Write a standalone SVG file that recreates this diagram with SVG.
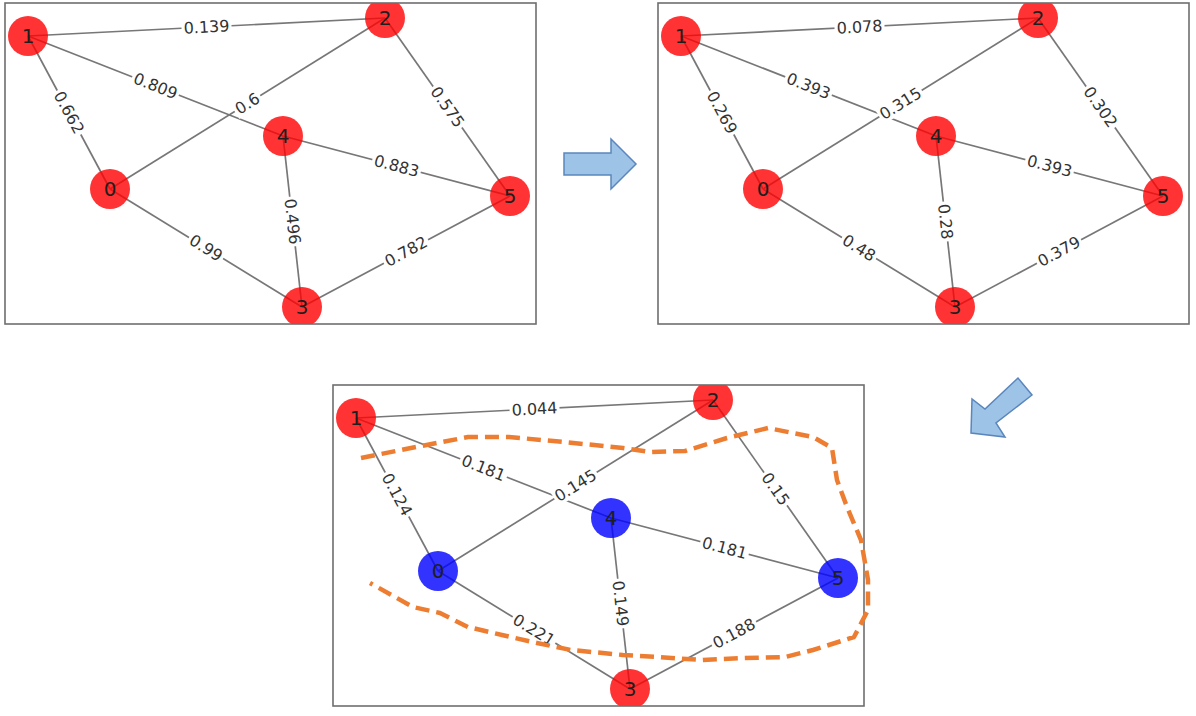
<svg xmlns="http://www.w3.org/2000/svg" width="1196" height="716" viewBox="0 0 1196 716">
<style>
.frame{fill:none;stroke:#6e6e6e;stroke-width:1.6}
.edge{stroke:#777;stroke-width:1.7;fill:none}
.lb{fill:#fff}
.el{font-family:"DejaVu Sans",sans-serif;font-size:16px;fill:#333;text-anchor:middle;dominant-baseline:central}
.red{fill:#ff0000;fill-opacity:0.8}
.blue{fill:#0000ff;fill-opacity:0.8}
.nl{font-family:"DejaVu Sans",sans-serif;font-size:20px;fill:#1e1e1e;text-anchor:middle;dominant-baseline:central}
.arrow{fill:#9dc3e6;stroke:#5a86bd;stroke-width:1.5;stroke-linejoin:miter}
.lasso{fill:none;stroke:#ed7d31;stroke-width:4.5;stroke-dasharray:14 7;stroke-linejoin:round}
</style>
<defs>
<clipPath id="clip" clipPathUnits="userSpaceOnUse"><rect x="0" y="0" width="531" height="321"/></clipPath>
</defs>

<!-- Panel 1 -->
<g id="panel1" transform="translate(5,3)">
  <g clip-path="url(#clip)">
    <g id="p1-connectors">
      <line class="edge" x1="23" y1="33" x2="380" y2="15"/>
      <line class="edge" x1="23" y1="33" x2="278" y2="133"/>
      <line class="edge" x1="23" y1="33" x2="105" y2="186"/>
      <line class="edge" x1="105" y1="186" x2="380" y2="15"/>
      <line class="edge" x1="380" y1="15" x2="505" y2="193"/>
      <line class="edge" x1="278" y1="133" x2="505" y2="193"/>
      <line class="edge" x1="278" y1="133" x2="297" y2="304"/>
      <line class="edge" x1="105" y1="186" x2="297" y2="304"/>
      <line class="edge" x1="297" y1="304" x2="505" y2="193"/>
    </g>
    <g id="p1-n0"><circle class="red" cx="105" cy="186" r="20"/><text class="nl" x="105" y="186">0</text></g>
    <g id="p1-n1"><circle class="red" cx="23" cy="33" r="20"/><text class="nl" x="23" y="33">1</text></g>
    <g id="p1-n2"><circle class="red" cx="380" cy="15" r="20"/><text class="nl" x="380" y="15">2</text></g>
    <g id="p1-n3"><circle class="red" cx="297" cy="304" r="20"/><text class="nl" x="297" y="304">3</text></g>
    <g id="p1-n4"><circle class="red" cx="278" cy="133" r="20"/><text class="nl" x="278" y="133">4</text></g>
    <g id="p1-n5"><circle class="red" cx="505" cy="193" r="20"/><text class="nl" x="505" y="193">5</text></g>
    <g id="p1-labels">
      <g transform="translate(201.5,24) rotate(-2.9)"><rect class="lb" x="-25" y="-9" width="50" height="18"/><text class="el">0.139</text></g>
      <g transform="translate(150.5,83) rotate(21.4)"><rect class="lb" x="-25" y="-9" width="50" height="18"/><text class="el">0.809</text></g>
      <g transform="translate(64,109.5) rotate(61.8)"><rect class="lb" x="-25" y="-9" width="50" height="18"/><text class="el">0.662</text></g>
      <g transform="translate(242.5,100.5) rotate(-31.9)"><rect class="lb" x="-15" y="-9" width="30" height="18"/><text class="el">0.6</text></g>
      <g transform="translate(442.5,104) rotate(54.9)"><rect class="lb" x="-25" y="-9" width="50" height="18"/><text class="el">0.575</text></g>
      <g transform="translate(391.5,163) rotate(14.8)"><rect class="lb" x="-25" y="-9" width="50" height="18"/><text class="el">0.883</text></g>
      <g transform="translate(287.5,218.5) rotate(83.7)"><rect class="lb" x="-25" y="-9" width="50" height="18"/><text class="el">0.496</text></g>
      <g transform="translate(201,245) rotate(31.6)"><rect class="lb" x="-20" y="-9" width="40" height="18"/><text class="el">0.99</text></g>
      <g transform="translate(401,248.5) rotate(-28.1)"><rect class="lb" x="-25" y="-9" width="50" height="18"/><text class="el">0.782</text></g>
    </g>
  </g>
  <rect class="frame" x="0" y="0" width="531" height="321"/>
</g>

<!-- Panel 2 -->
<g id="panel2" transform="translate(658,3)">
  <g clip-path="url(#clip)">
    <g id="p2-connectors">
      <line class="edge" x1="23" y1="33" x2="380" y2="15"/>
      <line class="edge" x1="23" y1="33" x2="278" y2="133"/>
      <line class="edge" x1="23" y1="33" x2="105" y2="186"/>
      <line class="edge" x1="105" y1="186" x2="380" y2="15"/>
      <line class="edge" x1="380" y1="15" x2="505" y2="193"/>
      <line class="edge" x1="278" y1="133" x2="505" y2="193"/>
      <line class="edge" x1="278" y1="133" x2="297" y2="304"/>
      <line class="edge" x1="105" y1="186" x2="297" y2="304"/>
      <line class="edge" x1="297" y1="304" x2="505" y2="193"/>
    </g>
    <g id="p2-n0"><circle class="red" cx="105" cy="186" r="20"/><text class="nl" x="105" y="186">0</text></g>
    <g id="p2-n1"><circle class="red" cx="23" cy="33" r="20"/><text class="nl" x="23" y="33">1</text></g>
    <g id="p2-n2"><circle class="red" cx="380" cy="15" r="20"/><text class="nl" x="380" y="15">2</text></g>
    <g id="p2-n3"><circle class="red" cx="297" cy="304" r="20"/><text class="nl" x="297" y="304">3</text></g>
    <g id="p2-n4"><circle class="red" cx="278" cy="133" r="20"/><text class="nl" x="278" y="133">4</text></g>
    <g id="p2-n5"><circle class="red" cx="505" cy="193" r="20"/><text class="nl" x="505" y="193">5</text></g>
    <g id="p2-labels">
      <g transform="translate(201.5,24) rotate(-2.9)"><rect class="lb" x="-25" y="-9" width="50" height="18"/><text class="el">0.078</text></g>
      <g transform="translate(150.5,83) rotate(21.4)"><rect class="lb" x="-25" y="-9" width="50" height="18"/><text class="el">0.393</text></g>
      <g transform="translate(64,109.5) rotate(61.8)"><rect class="lb" x="-25" y="-9" width="50" height="18"/><text class="el">0.269</text></g>
      <g transform="translate(242.5,100.5) rotate(-31.9)"><rect class="lb" x="-25" y="-9" width="50" height="18"/><text class="el">0.315</text></g>
      <g transform="translate(442.5,104) rotate(54.9)"><rect class="lb" x="-25" y="-9" width="50" height="18"/><text class="el">0.302</text></g>
      <g transform="translate(391.5,163) rotate(14.8)"><rect class="lb" x="-25" y="-9" width="50" height="18"/><text class="el">0.393</text></g>
      <g transform="translate(287.5,218.5) rotate(83.7)"><rect class="lb" x="-20" y="-9" width="40" height="18"/><text class="el">0.28</text></g>
      <g transform="translate(201,245) rotate(31.6)"><rect class="lb" x="-20" y="-9" width="40" height="18"/><text class="el">0.48</text></g>
      <g transform="translate(401,248.5) rotate(-28.1)"><rect class="lb" x="-25" y="-9" width="50" height="18"/><text class="el">0.379</text></g>
    </g>
  </g>
  <rect class="frame" x="0" y="0" width="531" height="321"/>
</g>

<!-- Panel 3 -->
<g id="panel3" transform="translate(333,385)">
  <g clip-path="url(#clip)">
    <g id="p3-connectors">
      <line class="edge" x1="23" y1="33" x2="380" y2="15"/>
      <line class="edge" x1="23" y1="33" x2="278" y2="133"/>
      <line class="edge" x1="23" y1="33" x2="105" y2="186"/>
      <line class="edge" x1="105" y1="186" x2="380" y2="15"/>
      <line class="edge" x1="380" y1="15" x2="505" y2="193"/>
      <line class="edge" x1="278" y1="133" x2="505" y2="193"/>
      <line class="edge" x1="278" y1="133" x2="297" y2="304"/>
      <line class="edge" x1="105" y1="186" x2="297" y2="304"/>
      <line class="edge" x1="297" y1="304" x2="505" y2="193"/>
    </g>
    <g id="p3-n0"><circle class="blue" cx="105" cy="186" r="20"/><text class="nl" x="105" y="186">0</text></g>
    <g id="p3-n1"><circle class="red" cx="23" cy="33" r="20"/><text class="nl" x="23" y="33">1</text></g>
    <g id="p3-n2"><circle class="red" cx="380" cy="15" r="20"/><text class="nl" x="380" y="15">2</text></g>
    <g id="p3-n3"><circle class="red" cx="297" cy="304" r="20"/><text class="nl" x="297" y="304">3</text></g>
    <g id="p3-n4"><circle class="blue" cx="278" cy="133" r="20"/><text class="nl" x="278" y="133">4</text></g>
    <g id="p3-n5"><circle class="blue" cx="505" cy="193" r="20"/><text class="nl" x="505" y="193">5</text></g>
    <g id="p3-labels">
      <g transform="translate(201.5,24) rotate(-2.9)"><rect class="lb" x="-25" y="-9" width="50" height="18"/><text class="el">0.044</text></g>
      <g transform="translate(150.5,83) rotate(21.4)"><rect class="lb" x="-25" y="-9" width="50" height="18"/><text class="el">0.181</text></g>
      <g transform="translate(64,109.5) rotate(61.8)"><rect class="lb" x="-25" y="-9" width="50" height="18"/><text class="el">0.124</text></g>
      <g transform="translate(242.5,100.5) rotate(-31.9)"><rect class="lb" x="-25" y="-9" width="50" height="18"/><text class="el">0.145</text></g>
      <g transform="translate(442.5,104) rotate(54.9)"><rect class="lb" x="-20" y="-9" width="40" height="18"/><text class="el">0.15</text></g>
      <g transform="translate(391.5,163) rotate(14.8)"><rect class="lb" x="-25" y="-9" width="50" height="18"/><text class="el">0.181</text></g>
      <g transform="translate(287.5,218.5) rotate(83.7)"><rect class="lb" x="-25" y="-9" width="50" height="18"/><text class="el">0.149</text></g>
      <g transform="translate(201,245) rotate(31.6)"><rect class="lb" x="-25" y="-9" width="50" height="18"/><text class="el">0.221</text></g>
      <g transform="translate(401,248.5) rotate(-28.1)"><rect class="lb" x="-25" y="-9" width="50" height="18"/><text class="el">0.188</text></g>
    </g>
  </g>
  <rect class="frame" x="0" y="0" width="531" height="321"/>
</g>

<!-- Orange hand-drawn lasso -->
<path id="lasso" class="lasso" d="M361,458 L416,447 L468,437 L509,437 L564,442 L623,448 L651,452 L685,451 L727,438 L768,428 L813,437 L832,448 L837,480 L847,507 L861,540 L868,580 L868,610 L854,637 L813,650 L785,657 L744,658 L702,660 L658,657 L623,655 L571,650 L537,643 L502,635 L468,627 L440,613 L413,607 L370,583"/>

<!-- Block arrows -->
<polygon id="arrow-right" class="arrow" points="564,153 611,153 611,139 636,164 611,189 611,175 564,175"/>
<polygon id="arrow-down-left" class="arrow" points="1018,378 985,409 972,399 971,433 1005,437 996,423 1032,395"/>
</svg>
